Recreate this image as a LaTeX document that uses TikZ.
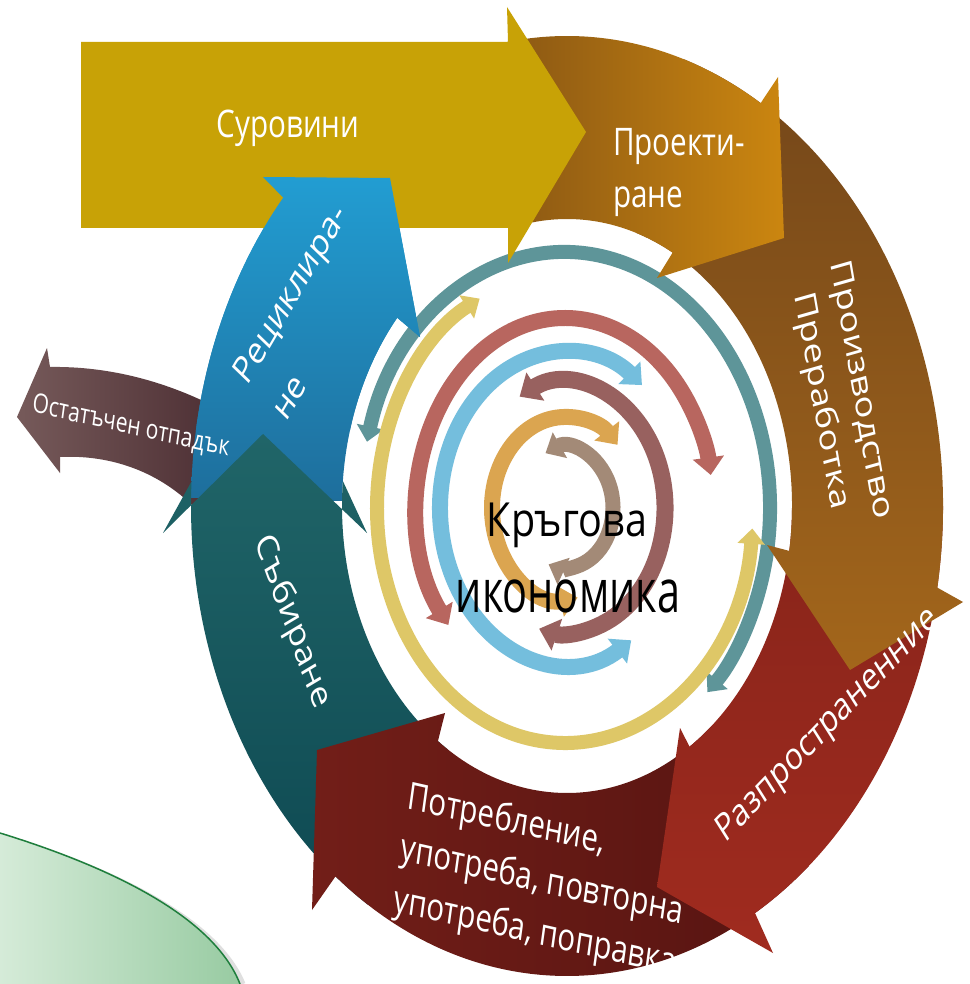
\documentclass[tikz,border=0pt]{standalone}
\usepackage{fontspec}
\setmainfont{Open Sans}
\usetikzlibrary{arrows.meta,calc}
\definecolor{cSur}{HTML}{C8A206}
\definecolor{pA}{HTML}{8A5714}
\definecolor{pB}{HTML}{CB8610}
\definecolor{dA}{HTML}{73461A}
\definecolor{dB}{HTML}{A3661B}
\definecolor{rA}{HTML}{88241A}
\definecolor{rB}{HTML}{A02B1F}
\definecolor{uA}{HTML}{721E18}
\definecolor{uB}{HTML}{561411}
\definecolor{sA}{HTML}{206568}
\definecolor{sB}{HTML}{0E4952}
\definecolor{bA}{HTML}{229DD2}
\definecolor{bB}{HTML}{1E6E9C}
\definecolor{mA}{HTML}{765A5A}
\definecolor{mB}{HTML}{4C2E33}
\definecolor{gA}{HTML}{D5EBD8}
\definecolor{gB}{HTML}{98CBA2}
\definecolor{gL}{HTML}{1E7E3C}
\definecolor{iTeal}{HTML}{5E9599}
\definecolor{iYel}{HTML}{DEC767}
\definecolor{iSal}{HTML}{B8665F}
\definecolor{iBlue}{HTML}{74BEDD}
\definecolor{iMau}{HTML}{98615F}
\definecolor{iOra}{HTML}{DBA550}
\definecolor{iBrg}{HTML}{A38A77}
\newcommand\sqlabel[6][]{\begin{scope}[shift={(#3,#4)},xscale=0.78]\node[lbl,#1,rotate=#5] (#2) at (0,0) {#6};\end{scope}}
\begin{document}
\begin{tikzpicture}[x=1pt,y=-1pt,
  lbl/.style={transform shape, text=white, inner sep=0pt, font=\fontsize{38}{52}\selectfont},
  ring/.style={arrows={Triangle[width=0pt 1.9,length=0pt 1.1]-Triangle[width=0pt 1.9,length=0pt 1.1]}}]
\useasboundingbox (0,0) rectangle (969,984);
\fill[white] (0,0) rectangle (969,984);
\coordinate (C) at (567,506);
\coordinate (c) at (565,508);
% inner rings
\draw[ring, line width=14pt, draw=iTeal] ($(c)+(-165:205 and 256)$) arc[start angle=-165, end angle=46, x radius=205, y radius=256];
\draw[ring, line width=14pt, draw=iYel] ($(c)+(5:188 and 235)$) arc[start angle=5, end angle=243, x radius=188, y radius=235];
\draw[ring, line width=16pt, draw=iSal] ($(c)+(-218:148 and 190)$) arc[start angle=-218, end angle=-10, x radius=148, y radius=190];
\draw[ring, line width=16pt, draw=iBlue] ($(c)+(58:125 and 156)$) arc[start angle=58, end angle=308, x radius=125, y radius=156];
\draw[ring, line width=17pt, draw=iMau] ($(c)+(-117:100 and 125)$) arc[start angle=-117, end angle=105, x radius=100, y radius=125];
\draw[ring, line width=16pt, draw=iOra] ($(c)+(80:73 and 91)$) arc[start angle=80, end angle=316, x radius=73, y radius=91];
\draw[ring, line width=15pt, draw=iBrg] ($(c)+(-114:48 and 60)$) arc[start angle=-114, end angle=110, x radius=48, y radius=60];
% residual waste arrow
\shade[left color=mA, right color=mB] (17,417) -- (47,348) -- (50,367) .. controls (110,366) and (170,382) .. (225,412) -- (225,520) -- (192,505) .. controls (150,465) and (100,455) .. (60,457) -- (60,473) -- cycle;
% recycling (blue)
\shade[top color=bA, bottom color=bB] ($(C)+(181:376 and 470)$) arc[start angle=181, end angle=221, x radius=376, y radius=470] -- (263,177) -- (390,178) -- (420,337) -- ($(C)+(221:225 and 287)$) arc[start angle=221, end angle=181, x radius=225, y radius=287] -- cycle;
% collection (teal)
\shade[top color=sA, bottom color=sB] ($(C)+(122:376 and 470)$) arc[start angle=122, end angle=183, x radius=376, y radius=470] -- (163,533) -- (263,434) -- (367,533) -- ($(C)+(185:225 and 287)$) arc[start angle=185, end angle=122, x radius=225, y radius=287] -- cycle;
% consumption (dark red)
\shade[left color=uA, right color=uB] ($(C)+(50:376 and 470)$) arc[start angle=50, end angle=128, x radius=376, y radius=470] -- (312,910) -- (317,750) -- (445,713) -- ($(C)+(125:225 and 287)$) arc[start angle=125, end angle=50, x radius=225, y radius=287] -- cycle;
% distribution (red)
\shade[top color=rA, bottom color=rB] ($(C)+(0:376 and 470)$) arc[start angle=0, end angle=60, x radius=376, y radius=470] -- (773,953) -- (657,887) -- (680,728) -- ($(C)+(57:225 and 287)$) arc[start angle=57, end angle=0, x radius=225, y radius=287] -- cycle;
% production (brown)
\shade[top color=dA, bottom color=dB] ($(C)+(-72:376 and 470)$) arc[start angle=-72, end angle=10, x radius=376, y radius=470] -- (963,602) -- (850,670) -- (767,545) -- ($(C)+(9:225 and 287)$) arc[start angle=9, end angle=-72, x radius=225, y radius=287] -- cycle;
% design (orange-brown)
\shade[left color=pA, right color=pB] ($(C)+(-100:376 and 470)$) arc[start angle=-100, end angle=-59, x radius=376, y radius=470] -- (778,77) -- (784,238) -- (657,278) -- ($(C)+(-62:225 and 287)$) arc[start angle=-62, end angle=-100, x radius=225, y radius=287] -- cycle;
% raw materials
\fill[cSur] (81,42) -- (508,42) -- (507,7) -- (586,132) -- (508,263) -- (508,228) -- (81,228) -- cycle;
% blue head again over raw materials
\begin{scope}
\clip (0,0) rectangle (969,430);
\shade[top color=bA, bottom color=bB] ($(C)+(181:376 and 470)$) arc[start angle=181, end angle=221, x radius=376, y radius=470] -- (263,177) -- (390,178) -- (420,337) -- ($(C)+(221:225 and 287)$) arc[start angle=221, end angle=181, x radius=225, y radius=287] -- cycle;
\end{scope}
% green corner
\draw[gray, opacity=0.25, line width=5pt] (3,836) .. controls (123,873) and (218,923) .. (243,984);
\shade[left color=gA, right color=gB] (0,833) .. controls (120,870) and (215,920) .. (240,984) -- (0,984) -- cycle;
\draw[gL, line width=1.5pt] (0,833) .. controls (120,870) and (215,920) .. (240,984);
% labels
\sqlabel[anchor=base]{tSur}{288}{138}{0}{Суровини}
\sqlabel[anchor=base west]{tPro1}{613}{156}{0}{Проекти-}
\sqlabel[anchor=base west]{tPro2}{613}{208}{0}{ране}
\sqlabel[align=center]{tProiz}{840}{396}{-77.5}{Производство\\Преработка}
\sqlabel{tRaz}{828}{726}{39}{Разпространенние}
\sqlabel[align=left]{tPot}{542}{882}{-10}{Потребление,\\употреба, повторна\\употреба, поправка}
\sqlabel{tSab}{292}{622}{-65}{Събиране}
\sqlabel{tRec1}{292}{296}{53}{Рециклира-}
\sqlabel{tRec2}{291}{398}{53}{не}
\sqlabel[font=\fontsize{27}{32}\selectfont]{tOst}{131}{427}{-10}{Остатъчен отпадък}
\sqlabel[anchor=base, text=black, xscale=1.077, font=\fontsize{47}{60}\selectfont]{tK1}{567}{536}{0}{Кръгова}
\sqlabel[anchor=base, text=black, xscale=0.885, font=\fontsize{60}{70}\selectfont]{tK2}{568}{612}{0}{икономика}
\end{tikzpicture}
\end{document}
